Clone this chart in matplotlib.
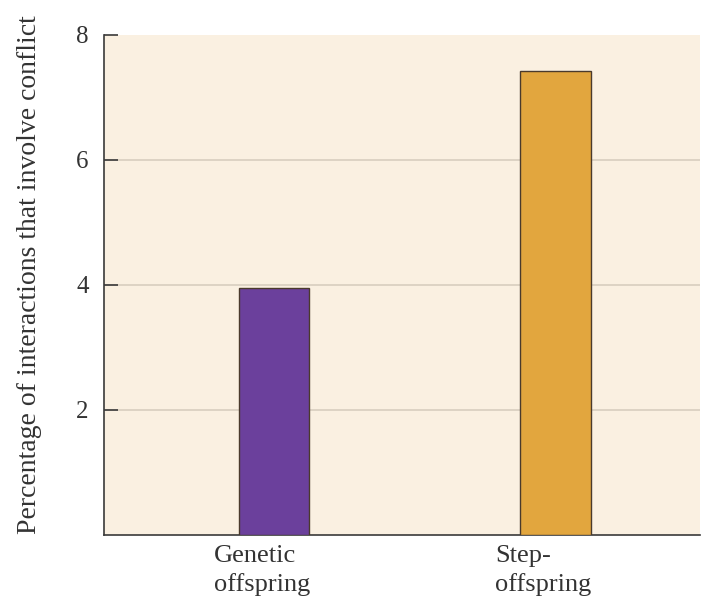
import matplotlib.pyplot as plt
import matplotlib.transforms as mtransforms

# data
categories = ["Genetic\noffspring", "Step-\noffspring"]
conflict_pct = [3.95, 7.42]
bar_colors = ["#6b409c", "#e2a63e"]
y_ticks = [2, 4, 6, 8]

plt.rcParams['font.family'] = ['Liberation Serif', 'DejaVu Serif']

fig = plt.figure(figsize=(7.09, 6.14), dpi=100)
ax = fig.add_axes([0.1467, 0.1287, 0.8406, 0.8143])
ax.set_facecolor("#faf0e1")

pos = list(range(len(categories)))
ax.bar(pos, conflict_pct, width=0.25, color=bar_colors,
       edgecolor="#4a3a2c", linewidth=1.0, zorder=3)

ax.set_xlim(-0.604, 1.513)
ax.set_ylim(0, 8)

# light grid lines
ax.set_yticks(y_ticks)
ax.yaxis.grid(True, color="#d8cebf", linewidth=1.2, zorder=0)
ax.set_axisbelow(True)
# no grid line along the top edge
ax.get_ygridlines()[-1].set_visible(False)

ax.tick_params(axis='y', direction='in', length=10, width=1.2,
               color="#3a3a3a", labelsize=18, pad=11, labelcolor="#333333")
ax.set_xticks(pos)
ax.set_xticklabels(categories, fontsize=19, color="#333333",
                   multialignment='left', linespacing=1.35)
ax.tick_params(axis='x', length=0, pad=7)
# labels sit a bit left of the bar centres
shift = mtransforms.ScaledTranslation(-12 / 100, 0, fig.dpi_scale_trans)
for lab in ax.get_xticklabels():
    lab.set_transform(lab.get_transform() + shift)

ax.set_ylabel("Percentage of interactions that involve conflict",
              fontsize=20, color="#333333")
ax.yaxis.set_label_coords(-0.104, 0.52)

for side in ["top", "right"]:
    ax.spines[side].set_visible(False)
for side in ["left", "bottom"]:
    ax.spines[side].set_color("#3a3a3a")
    ax.spines[side].set_linewidth(1.2)

fig.savefig("out.png", dpi=100, facecolor="white")
